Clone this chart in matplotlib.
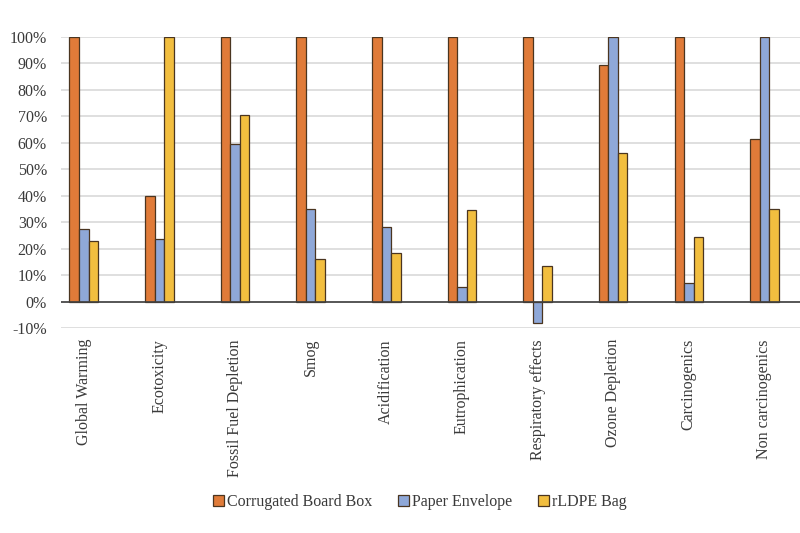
import matplotlib.pyplot as plt
import numpy as np
from matplotlib.ticker import PercentFormatter

categories = ['Global Warming', 'Ecotoxicity', 'Fossil Fuel Depletion', 'Smog',
              'Acidification', 'Eutrophication', 'Respiratory effects',
              'Ozone Depletion', 'Carcinogenics', 'Non carcinogenics']
box = [100, 40, 100, 100, 100, 100, 100, 89.5, 100, 61.5]
envelope = [27.3, 23.5, 59.5, 35, 28, 5.5, -8.2, 100, 7, 100]
bag = [22.7, 100, 70.5, 16, 18.5, 34.5, 13.5, 56, 24.5, 35]

series = [('Corrugated Board Box', box, '#E07B39'),
          ('Paper Envelope', envelope, '#8FA8D8'),
          ('rLDPE Bag', bag, '#F2BE3F')]

plt.rcParams['font.family'] = ['Liberation Serif', 'DejaVu Serif']
plt.rcParams['axes.unicode_minus'] = False

fig = plt.figure(figsize=(8, 5.33), dpi=100)
ax = fig.add_axes([0.076, 0.3846, 0.924, 0.546])

x = np.arange(len(categories))
w = 0.126
for i, (name, vals, col) in enumerate(series):
    ax.bar(x + (i - 1) * w, np.array(vals) / 100, w, color=col,
           edgecolor='#4a3520', linewidth=0.9, label=name, zorder=3)

ax.set_ylim(-0.1, 1.0)
ax.set_xlim(-0.304, 9.47)
ax.set_yticks(np.arange(-0.1, 1.01, 0.1))
ax.yaxis.set_major_formatter(PercentFormatter(1.0, decimals=0))
ax.grid(axis='y', color='#d9d9d9', linewidth=1.2, zorder=0)
ax.axhline(0, color='#404040', linewidth=1.2, zorder=4)
for s in ax.spines.values():
    s.set_visible(False)
ax.tick_params(axis='both', length=0, labelsize=11.5, colors='#3a3a3a')
ax.tick_params(axis='y', pad=10)
ax.set_xticks(x)
ax.set_xticklabels(categories, rotation=90, va='top', ha='center')
ax.tick_params(axis='x', pad=8)

handles, labels = ax.get_legend_handles_labels()
fig.legend(handles, labels, loc='center', bbox_to_anchor=(0.525, 0.058), ncol=3,
           frameon=False, fontsize=11.5, handlelength=0.7, handleheight=0.7,
           handletextpad=0.2, columnspacing=1.6, labelcolor='#3a3a3a')

fig.savefig('out.png', dpi=100)
